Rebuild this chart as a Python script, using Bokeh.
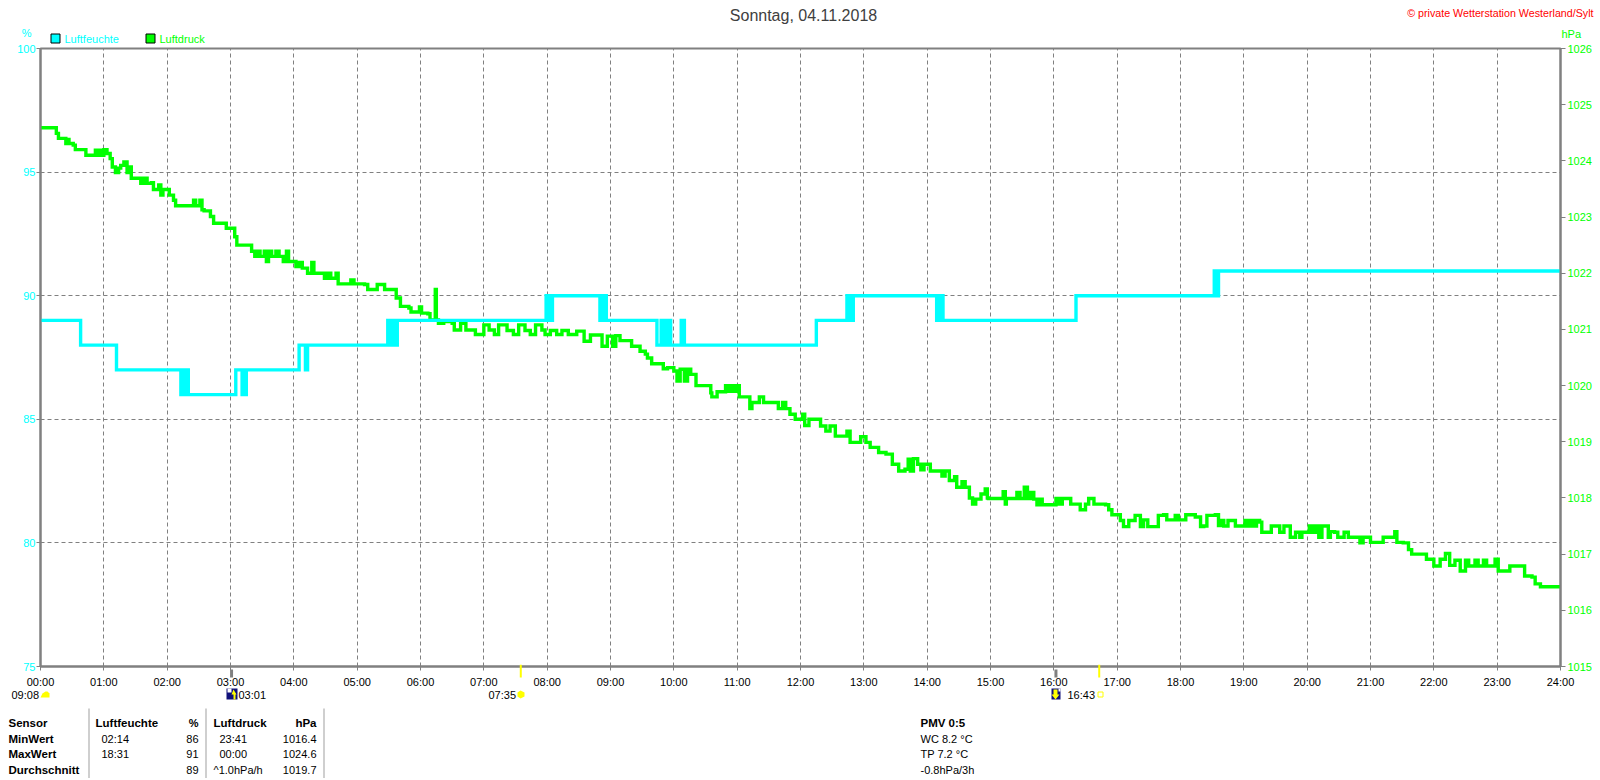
from bokeh.plotting import figure
from bokeh.layouts import column, row
from bokeh.models import Range1d, LinearAxis, FixedTicker
from bokeh.core.properties import value
from bokeh.embed import file_html
from bokeh.resources import INLINE

# ---- data -------------------------------------------------------------
title_text = "Sonntag, 04.11.2018"
copyright_text = "\u00a9 private Wetterstation Westerland/Sylt"
hour_labels = ["%02d:00" % h for h in range(25)]
hum_ticks = [75, 80, 85, 90, 95, 100]
hpa_ticks = [1015, 1016, 1017, 1018, 1019, 1020, 1021, 1022, 1023, 1024, 1025, 1026]
sun_minutes = [455, 1003]
moon_minutes = [181, 962]

hum_min = [0, 36, 38, 70, 72, 132, 133, 134, 135, 136, 137, 138, 139, 140, 141, 184, 185, 190, 191, 192, 193, 194, 195, 196,
           243, 245, 250, 251, 252, 253, 328, 329, 330, 331, 332, 333, 334, 335, 336, 337, 338, 339,
           478, 479, 480, 481, 482, 483, 484, 485, 529, 530, 531, 532, 533, 534, 535, 536, 537,
           582, 584, 587, 588, 589, 590, 591, 592, 593, 594, 595, 597, 606, 607, 609, 610,
           734, 735, 763, 764, 765, 766, 767, 768, 769, 770, 847, 849, 851, 852, 854, 855,
           980, 981, 1110, 1112, 1113, 1114, 1115, 1116, 1117, 1440]
hum_val = [89, 89, 88, 88, 87, 87, 86, 87, 86, 87, 86, 86, 87, 86, 86, 86, 87, 87, 86, 87, 86, 86, 87, 87,
           87, 88, 88, 87, 87, 88, 88, 89, 88, 89, 88, 89, 88, 89, 89, 88, 89, 89,
           89, 90, 89, 90, 89, 90, 89, 90, 90, 89, 90, 89, 90, 89, 90, 89, 89,
           89, 88, 88, 89, 88, 89, 88, 89, 88, 89, 89, 88, 88, 89, 89, 88,
           88, 89, 89, 90, 89, 90, 89, 90, 89, 90, 90, 89, 89, 90, 90, 89,
           89, 90, 90, 91, 90, 91, 90, 91, 91, 91]

press_min = [0, 13, 15, 17, 22, 24, 25, 27, 31, 33, 41, 43, 51, 52, 54, 56, 58, 60, 63, 66, 68, 71, 74, 76, 79, 82, 84, 86,
             93, 95, 98, 101, 105, 107, 112, 114, 116, 120, 122, 126, 128, 142, 145, 147, 151, 153, 155, 161, 164, 174, 176,
             182, 184, 186, 198, 200, 203, 205, 208, 212, 214, 216, 219, 223, 226, 230, 233, 235, 242, 245, 248, 253, 257, 259,
             269, 272, 275, 280, 282, 294, 297, 307, 310, 316, 319, 326, 332, 337, 341, 349, 351, 359, 361, 367, 369,
             373, 374, 375, 377, 382, 390, 392, 398, 403, 407, 412, 420, 425, 430, 434, 442, 448, 453, 459, 464, 469, 475, 478,
             483, 489, 494, 500, 508, 515, 521, 527, 532, 537, 542, 545, 549, 557, 560, 565, 568,
             573, 575, 579, 588, 590, 594, 600, 603, 606, 610, 613, 616, 621, 632, 635, 636, 641, 646, 649, 651, 654, 657, 660, 662,
             669, 672, 674, 679, 681, 685, 698, 699, 703, 706, 710, 715, 722, 724, 728, 736, 739, 744, 748, 753, 764, 767,
             777, 782, 786, 794, 801, 807, 813, 819, 822, 824, 827, 831, 834, 837, 841, 843, 853, 854, 857, 861, 866, 868, 873, 876,
             880, 883, 886, 891, 895, 897, 898, 909, 912, 914, 915, 924, 925, 928, 932, 935, 938, 941, 944, 947, 949, 960, 962, 965,
             968, 973, 976, 982, 985, 990, 993, 998, 1009, 1012, 1015, 1020, 1023, 1026, 1031, 1037, 1042, 1045, 1049, 1053, 1059,
             1064, 1067, 1074, 1075, 1078, 1085, 1094, 1099, 1102, 1105, 1113, 1116, 1118, 1121, 1125, 1130, 1132, 1140, 1141, 1144,
             1147, 1149, 1152, 1155, 1157, 1164, 1166, 1171, 1174, 1178, 1182, 1184, 1189, 1193, 1195, 1200, 1202, 1205, 1208, 1211,
             1214, 1220, 1222, 1226, 1229, 1235, 1239, 1247, 1250, 1253, 1260, 1266, 1272, 1282, 1283, 1285, 1291, 1296, 1299, 1310,
             1313, 1320, 1326, 1331, 1335, 1340, 1345, 1350, 1353, 1359, 1362, 1367, 1370, 1375, 1378, 1381, 1392, 1397, 1406, 1413,
             1416, 1421, 1430, 1440]
press_val = [1024.59, 1024.59, 1024.49, 1024.40, 1024.40, 1024.31, 1024.38, 1024.31, 1024.28, 1024.20, 1024.20, 1024.10, 1024.10, 1024.19, 1024.10, 1024.19, 1024.10, 1024.20, 1024.13, 1024.04, 1023.89, 1023.79, 1023.87, 1023.92, 1023.98, 1023.79, 1023.89, 1023.69,
             1023.69, 1023.60, 1023.69, 1023.60, 1023.61, 1023.49, 1023.57, 1023.39, 1023.49, 1023.49, 1023.39, 1023.30, 1023.20, 1023.20, 1023.30, 1023.20, 1023.30, 1023.13, 1023.11, 1023.01, 1022.89, 1022.89, 1022.80,
             1022.80, 1022.65, 1022.50, 1022.50, 1022.39, 1022.30, 1022.39, 1022.30, 1022.39, 1022.21, 1022.39, 1022.30, 1022.39, 1022.30, 1022.21, 1022.39, 1022.21, 1022.12, 1022.19, 1022.09, 1022.00, 1022.19, 1022.00,
             1021.91, 1022.00, 1021.91, 1022.00, 1021.81, 1021.88, 1021.81, 1021.80, 1021.71, 1021.71, 1021.80, 1021.71, 1021.71, 1021.56, 1021.41, 1021.38, 1021.31, 1021.40, 1021.29, 1021.28, 1021.17,
             1021.17, 1021.71, 1021.17, 1021.11, 1021.14, 1021.11, 1020.99, 1021.11, 1020.99, 1020.99, 1020.91, 1021.08, 1020.99, 1020.91, 1021.08, 1020.98, 1020.91, 1021.08, 1020.98, 1020.91, 1021.08, 1020.99, 1020.91,
             1020.98, 1020.91, 1020.98, 1020.91, 1020.97, 1020.79, 1020.90, 1020.90, 1020.70, 1020.88, 1020.70, 1020.89, 1020.80, 1020.80, 1020.70, 1020.70, 1020.61,
             1020.56, 1020.49, 1020.39, 1020.39, 1020.30, 1020.32, 1020.26, 1020.08, 1020.29, 1020.08, 1020.29, 1020.20, 1020.00, 1020.00, 1019.87, 1019.80, 1019.89, 1019.89, 1020.00, 1019.90, 1020.00, 1019.90, 1020.00, 1019.80,
             1019.80, 1019.59, 1019.70, 1019.70, 1019.80, 1019.70, 1019.70, 1019.59, 1019.70, 1019.59, 1019.49, 1019.40, 1019.49, 1019.29, 1019.40, 1019.40, 1019.28, 1019.19, 1019.28, 1019.10, 1019.19, 1018.99,
             1019.09, 1018.99, 1018.90, 1018.81, 1018.78, 1018.60, 1018.48, 1018.51, 1018.69, 1018.48, 1018.70, 1018.60, 1018.50, 1018.60, 1018.60, 1018.48, 1018.48, 1018.39, 1018.48, 1018.31, 1018.38, 1018.19, 1018.29, 1018.19,
             1018.00, 1017.89, 1017.98, 1018.07, 1018.16, 1018.00, 1017.99, 1017.99, 1018.11, 1017.89, 1017.99, 1017.99, 1018.10, 1017.99, 1018.19, 1017.99, 1018.10, 1017.98, 1017.88, 1017.98, 1017.88, 1017.88, 1017.99, 1017.89,
             1017.99, 1017.99, 1017.89, 1017.89, 1017.79, 1017.89, 1017.99, 1017.89, 1017.88, 1017.79, 1017.70, 1017.70, 1017.60, 1017.49, 1017.60, 1017.69, 1017.49, 1017.61, 1017.49, 1017.49, 1017.69,
             1017.70, 1017.61, 1017.61, 1017.69, 1017.61, 1017.70, 1017.66, 1017.49, 1017.50, 1017.69, 1017.70, 1017.51, 1017.60, 1017.50, 1017.60, 1017.60, 1017.50, 1017.50, 1017.60, 1017.50,
             1017.60, 1017.50, 1017.60, 1017.57, 1017.39, 1017.39, 1017.50, 1017.50, 1017.39, 1017.50, 1017.50, 1017.30, 1017.39, 1017.30, 1017.39, 1017.39, 1017.50, 1017.39, 1017.50, 1017.30,
             1017.50, 1017.30, 1017.40, 1017.39, 1017.30, 1017.39, 1017.30, 1017.30, 1017.20, 1017.30, 1017.21, 1017.21, 1017.30, 1017.30, 1017.40, 1017.21, 1017.20, 1017.08, 1017.00, 1017.00,
             1016.91, 1016.79, 1016.91, 1017.01, 1016.80, 1016.89, 1016.70, 1016.89, 1016.79, 1016.89, 1016.79, 1016.89, 1016.79, 1016.79, 1016.91, 1016.70, 1016.79, 1016.79, 1016.61, 1016.59,
             1016.47, 1016.42, 1016.42, 1016.40]

W = 1600
HEAD_H, MAIN_END, FOOT_TOP, PAGE_H = 44, 690, 664, 778
L, R, T, B = 40, 1560, 48, 668
GRAY = "#808080"
FONT = "Liberation Sans"
CYAN, GREEN = "#00ffff", "#00ff00"

# ---- main chart --------------------------------------------------------
p = figure(width=W, height=MAIN_END - HEAD_H, output_backend="svg", toolbar_location=None,
           x_range=Range1d(0, 1440), y_range=Range1d(75, 100),
           min_border_left=L, min_border_right=W - R,
           min_border_top=T - HEAD_H, min_border_bottom=MAIN_END - B,
           background_fill_color="white", border_fill_color="white")
p.extra_y_ranges = {"hpa": Range1d(1015, 1026)}
p.outline_line_color = GRAY
p.outline_line_width = 2

for ax in (p.xaxis[0], p.yaxis[0]):
    ax.axis_line_color = GRAY
    ax.axis_line_width = 2
    ax.major_tick_line_color = GRAY
    ax.minor_tick_line_color = None
    ax.major_tick_in = 0
    ax.major_tick_out = 4
    ax.major_label_text_font = FONT
    ax.major_label_text_font_size = "11px"

p.xaxis[0].ticker = FixedTicker(ticks=[h * 60 for h in range(25)])
p.xaxis[0].major_label_overrides = {h * 60: hour_labels[h] for h in range(25)}
p.xaxis[0].major_label_text_color = "black"
p.xaxis[0].major_label_standoff = 5

p.yaxis[0].ticker = FixedTicker(ticks=hum_ticks)
p.yaxis[0].major_label_text_color = CYAN
p.yaxis[0].major_label_standoff = 1

right = LinearAxis(y_range_name="hpa", ticker=FixedTicker(ticks=hpa_ticks))
right.axis_line_color = GRAY
right.axis_line_width = 2
right.major_tick_line_color = GRAY
right.minor_tick_line_color = None
right.major_tick_in = 0
right.major_tick_out = 5
right.major_label_text_color = GREEN
right.major_label_text_font = FONT
right.major_label_text_font_size = "11px"
right.major_label_standoff = 2
p.add_layout(right, "right")

p.xgrid[0].ticker = FixedTicker(ticks=[h * 60 for h in range(1, 24)])
p.ygrid[0].ticker = FixedTicker(ticks=[80, 85, 90, 95])
for g in (p.xgrid[0], p.ygrid[0]):
    g.grid_line_color = GRAY
    g.grid_line_dash = "4 3"
    g.grid_line_width = 1

p.step(press_min, press_val, mode="after", y_range_name="hpa", line_color=GREEN, line_width=3.4, line_join="miter")
p.step(hum_min, hum_val, mode="after", line_color=CYAN, line_width=3.4, line_join="miter")


# ---- header and footer strips, in page pixels ----------------------------
def strip(y0, y1, fill):
    f = figure(width=W, height=y1 - y0, output_backend="svg", toolbar_location=None,
               x_range=Range1d(0, W), y_range=Range1d(y1, y0),
               min_border=0, outline_line_color=None,
               background_fill_color=fill, border_fill_color=fill)
    f.xaxis.visible = False
    f.yaxis.visible = False
    f.xgrid.visible = False
    f.ygrid.visible = False
    return f


head = strip(0, HEAD_H, "white")
foot = strip(FOOT_TOP, PAGE_H, None)
foot.margin = (FOOT_TOP - MAIN_END, 0, 0, 0)   # lies over the lower edge of the chart


def txt(f, x, y, s, color="black", size="11px", bold=False, align="left"):
    f.text([x], [y], text=[s], text_color=color, text_font=value(FONT), text_font_size=size,
           text_font_style="bold" if bold else "normal", text_align=align, text_baseline="middle")


def box(f, x0, y0, x1, y1, fill, line=None):
    f.quad(left=[x0], right=[x1], top=[y0], bottom=[y1], fill_color=fill, line_color=line)


def poly(f, xs, ys, fill):
    f.patch(xs, ys, fill_color=fill, line_color=None)


def minute_x(m):
    return L + m * (R - L) / 1440


txt(head, 803, 15, title_text, color="#404040", size="16px", align="center")
txt(head, 1593, 12, copyright_text, color="#ff0000", size="10.7px", align="right")
txt(head, 31, 32, "%", color=CYAN, align="right")
txt(head, 1561, 33, "hPa", color=GREEN)
box(head, 50.5, 33.5, 59.5, 42.5, CYAN, "black")
txt(head, 64, 38, "Luftfeuchte", color=CYAN)
box(head, 145.5, 33.5, 154.5, 42.5, GREEN, "black")
txt(head, 159, 38, "Luftdruck", color=GREEN)

for m in sun_minutes:
    box(foot, minute_x(m) - 1, 664, minute_x(m) + 1, 677, "#ffff00")
for m in moon_minutes:
    box(foot, minute_x(m) - 1.5, 669, minute_x(m) + 1.5, 677, GRAY)

txt(foot, 11, 694, "09:08")
poly(foot, [40, 42, 45, 47, 49, 49, 40], [697, 693, 691, 691, 693, 697, 697], "#ffff00")
txt(foot, 238, 694, "03:01")
box(foot, 226, 688, 237, 699, "#10107a")
box(foot, 227, 688, 231, 692, "#ffffff")
poly(foot, [233, 236, 235, 235, 233, 233, 231], [689, 694, 694, 699, 699, 694, 694], "#ffff00")
txt(foot, 488, 694, "07:35")
poly(foot, [517, 520, 524, 524, 520, 517], [692, 690, 692, 696, 698, 696], "#ffff00")
txt(foot, 1067, 694, "16:43")
box(foot, 1097.5, 691.5, 1102.5, 696.5, "#ffffff", "#ffff00")
box(foot, 1051, 688, 1060, 699, "#10107a")
box(foot, 1058, 688, 1060, 691, "#ffffff")
poly(foot, [1053, 1057, 1057, 1059, 1055, 1051, 1053], [689, 689, 694, 694, 699, 694, 694], "#ffff00")

for x in (88, 205, 323):
    box(foot, x, 708, x + 1, 778, "#a0a0a0")
rows = [722, 738, 753, 769]
for y, s in zip(rows, ["Sensor", "MinWert", "MaxWert", "Durchschnitt"]):
    txt(foot, 8, y, s, bold=True, size="11.5px")
txt(foot, 95, rows[0], "Luftfeuchte", bold=True, size="11.5px")
txt(foot, 198, rows[0], "%", bold=True, align="right")
txt(foot, 101, rows[1], "02:14")
txt(foot, 198, rows[1], "86", align="right")
txt(foot, 101, rows[2], "18:31")
txt(foot, 198, rows[2], "91", align="right")
txt(foot, 198, rows[3], "89", align="right")
txt(foot, 213, rows[0], "Luftdruck", bold=True, size="11.5px")
txt(foot, 316, rows[0], "hPa", bold=True, size="11.5px", align="right")
txt(foot, 219, rows[1], "23:41")
txt(foot, 316, rows[1], "1016.4", align="right")
txt(foot, 219, rows[2], "00:00")
txt(foot, 316, rows[2], "1024.6", align="right")
txt(foot, 213, rows[3], "^1.0hPa/h")
txt(foot, 316, rows[3], "1019.7", align="right")
txt(foot, 920, rows[0], "PMV 0:5", bold=True, size="11.5px")
txt(foot, 920, rows[1], "WC 8.2 \u00b0C")
txt(foot, 920, rows[2], "TP 7.2 \u00b0C")
txt(foot, 920, rows[3], "-0.8hPa/3h")

assert len(hum_min) == len(hum_val), (len(hum_min), len(hum_val))
assert len(press_min) == len(press_val), (len(press_min), len(press_val))
page = column(row(head), p, row(foot), spacing=0)
open("out.html", "w").write(file_html(page, INLINE))
